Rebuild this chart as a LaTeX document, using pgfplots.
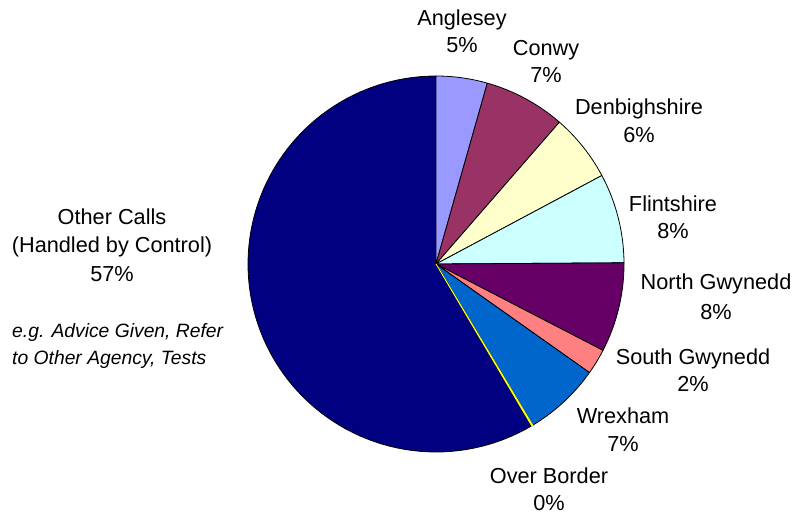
\documentclass[border=0pt]{standalone}
\usepackage{pgfplots}
\pgfplotsset{compat=1.18}
\usepackage{fontspec}
\setmainfont{Liberation Sans}
\definecolor{cAng}{HTML}{9999FF}
\definecolor{cCon}{HTML}{993366}
\definecolor{cDen}{HTML}{FFFFCC}
\definecolor{cFli}{HTML}{CCFFFF}
\definecolor{cNGw}{HTML}{660066}
\definecolor{cSGw}{HTML}{FF8080}
\definecolor{cWre}{HTML}{0066CC}
\definecolor{cOvB}{HTML}{FFFF00}
\definecolor{cOth}{HTML}{000080}
\newcommand{\lbl}{\fontsize{21.7bp}{26bp}\selectfont}
\newcommand{\ilbl}{\fontsize{19.3bp}{24bp}\selectfont\itshape}
\begin{document}
\begin{tikzpicture}
\begin{axis}[x=1bp,y=1bp,xmin=0,xmax=793,ymin=0,ymax=516,y dir=reverse,
  hide axis,clip=false]
\path (axis cs:0,0) rectangle (axis cs:793,516);
% slice shares (percent), drawn clockwise from 12 o'clock; Other Calls first (ends at top)
\xdef\cum{-58.5}
\foreach \v/\col/\dc in {58.5/cOth/black, 4.4/cAng/black, 7.0/cCon/black, 5.8/cDen/black,
   7.7/cFli/black, 7.7/cNGw/black, 2.2/cSGw/black, 6.6/cWre/black, 0.1/cOvB/cOvB}{
  \pgfmathsetmacro\aa{-90+3.6*\cum}
  \pgfmathsetmacro\newcum{\cum+\v}
  \pgfmathsetmacro\bb{-90+3.6*\newcum}
  \xdef\cum{\newcum}
  \edef\temp{\noexpand\addplot[fill=\col,draw=\dc,line width=0.8pt,line join=round,domain=\aa:\bb,samples=90]
    ({436+188*cos(x)},{264+188*sin(x)}) -- (axis cs:436,264) -- cycle;}
  \temp
}
\begin{scope}[every node/.style={inner sep=0pt,anchor=base,font=\lbl}]
\node at (axis cs:462,26) {Anglesey};
\node at (axis cs:462,53) {5\%};
\node at (axis cs:546,56) {Conwy};
\node at (axis cs:546,83) {7\%};
\node at (axis cs:639,115) {Denbighshire};
\node at (axis cs:639,142.5) {6\%};
\node at (axis cs:673,211.5) {Flintshire};
\node at (axis cs:673,239) {8\%};
\node at (axis cs:716,290) {North Gwynedd};
\node at (axis cs:716,319) {8\%};
\node at (axis cs:693,364) {South Gwynedd};
\node at (axis cs:693,391.5) {2\%};
\node at (axis cs:623,423) {Wrexham};
\node at (axis cs:623,451.5) {7\%};
\node at (axis cs:549,483) {Over Border};
\node at (axis cs:549,510) {0\%};
\node at (axis cs:112,225) {Other Calls};
\node at (axis cs:112,253) {(Handled by Control)};
\node at (axis cs:112,282) {57\%};
\node[anchor=base west,font=\ilbl] at (axis cs:12,337) {e.g. Advice Given, Refer};
\node[anchor=base west,font=\ilbl] at (axis cs:12,364) {to Other Agency, Tests};
\end{scope}
\end{axis}
\end{tikzpicture}
\end{document}
